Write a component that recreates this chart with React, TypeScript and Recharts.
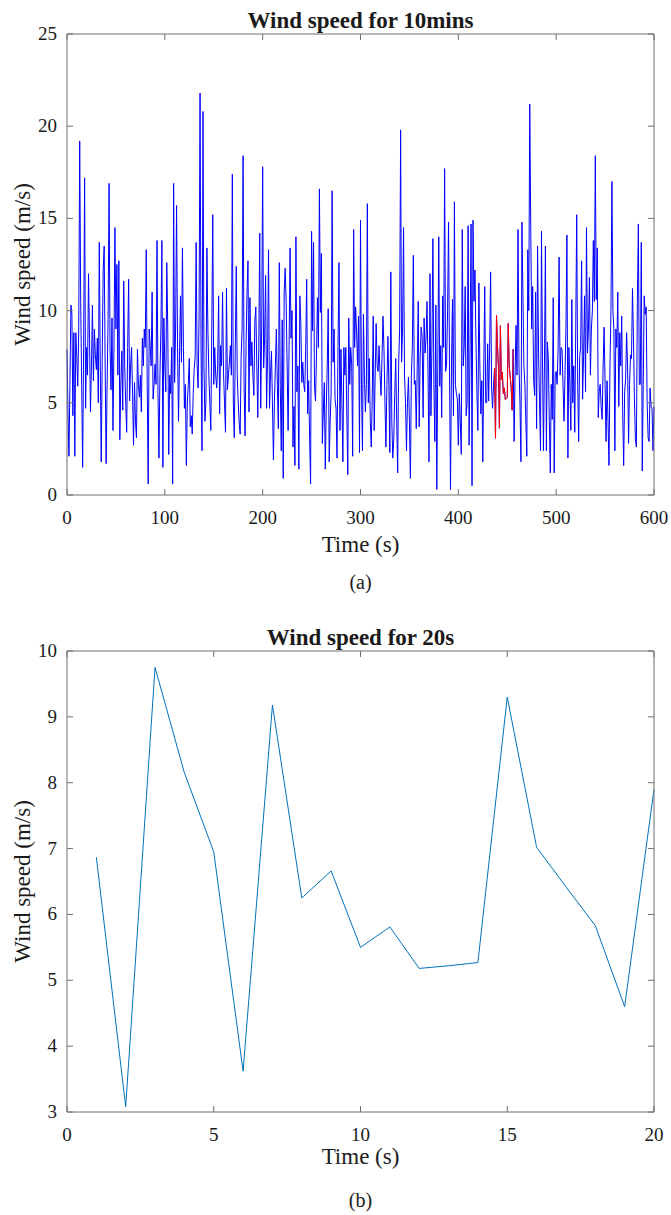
import { LineChart, Line, XAxis, YAxis } from 'recharts';

// wind speed sampled each second, t = 0..600 (m/s)
const speed10min: number[] = [
  7.9, 4.5, 2.1, 6.0, 10.3, 9.8, 4.3, 8.8, 2.1, 8.8,
  7.5, 5.9, 9.0, 19.2, 10.5, 6.0, 1.5, 8.0, 17.2, 4.7,
  8.0, 6.5, 12.0, 8.5, 4.5, 7.0, 10.3, 6.2, 9.0, 7.6,
  6.8, 8.5, 5.0, 13.7, 7.0, 1.8, 7.5, 12.2, 13.5, 7.0,
  1.7, 6.0, 9.5, 16.9, 8.0, 5.7, 9.6, 3.5, 8.0, 14.5,
  9.0, 12.5, 6.5, 12.7, 3.0, 6.0, 7.8, 4.6, 11.6, 7.0,
  5.0, 3.4, 8.0, 11.7, 5.1, 7.0, 8.0, 5.5, 2.7, 6.1,
  4.0, 3.1, 7.9, 6.0, 5.3, 6.5, 4.5, 8.5, 7.0, 9.0,
  8.0, 13.3, 6.0, 0.6, 9.0, 8.1, 7.0, 11.0, 5.2, 6.0,
  7.1, 6.0, 13.8, 5.5, 2.0, 6.5, 9.0, 13.8, 1.5, 9.6,
  7.0, 5.6, 12.6, 9.0, 2.2, 6.5, 5.5, 8.0, 0.6, 16.9,
  6.1, 9.0, 15.7, 8.0, 4.0, 7.5, 10.8, 7.2, 13.4, 8.0,
  4.7, 6.0, 1.6, 5.1, 6.0, 7.4, 3.7, 4.3, 3.3, 5.5,
  6.8, 7.5, 13.7, 7.0, 5.8, 9.6, 21.8, 8.0, 2.4, 20.8,
  7.0, 4.0, 5.1, 13.4, 9.0, 6.5, 5.0, 3.5, 9.0, 15.2,
  6.0, 8.0, 6.5, 5.8, 7.0, 10.8, 4.4, 8.1, 7.0, 11.0,
  6.6, 5.0, 3.4, 11.2, 5.7, 6.5, 7.2, 8.1, 6.5, 17.4,
  5.0, 3.1, 8.0, 12.4, 6.5, 5.0, 3.9, 3.3, 7.5, 9.0,
  18.4, 6.0, 3.2, 8.0, 11.0, 12.7, 4.5, 10.7, 7.0, 8.3,
  6.5, 5.4, 9.4, 10.2, 7.0, 4.2, 8.0, 14.2, 4.7, 9.0,
  17.8, 6.9, 8.5, 11.9, 4.7, 7.5, 13.3, 4.7, 6.5, 7.8,
  5.0, 1.9, 5.1, 7.0, 9.0, 6.0, 3.6, 12.6, 6.0, 2.4,
  9.5, 0.9, 11.0, 12.3, 10.5, 7.0, 3.5, 8.0, 13.4, 8.5,
  10.0, 2.6, 4.8, 1.6, 14.0, 5.6, 7.0, 1.4, 10.8, 9.3,
  6.1, 7.2, 6.0, 5.6, 8.0, 11.7, 4.4, 6.2, 3.0, 0.6,
  14.3, 8.9, 13.7, 5.9, 5.1, 7.5, 10.7, 8.0, 16.6, 9.9,
  13.1, 2.8, 4.5, 6.1, 1.4, 4.7, 7.0, 10.1, 1.8, 4.0,
  5.6, 16.5, 7.2, 9.0, 5.2, 4.7, 2.0, 8.0, 12.6, 3.5,
  7.9, 5.0, 1.8, 8.0, 6.5, 8.0, 4.5, 1.1, 9.6, 6.0,
  8.0, 7.1, 2.1, 14.4, 8.0, 10.2, 8.8, 7.0, 9.7, 2.3,
  14.9, 6.0, 2.4, 9.8, 6.5, 4.5, 6.0, 15.8, 5.0, 7.4,
  4.0, 2.6, 5.3, 9.7, 3.5, 6.5, 9.3, 7.0, 6.7, 8.1,
  6.5, 5.4, 7.5, 9.7, 7.9, 5.0, 2.6, 6.0, 8.6, 6.0,
  2.3, 12.1, 4.0, 2.0, 3.0, 5.5, 7.4, 4.0, 1.2, 7.1,
  9.0, 19.8, 7.2, 9.0, 14.5, 6.5, 5.0, 2.4, 5.0, 6.4,
  4.0, 0.9, 6.5, 8.0, 13.0, 6.0, 6.2, 3.6, 7.0, 10.5,
  3.7, 7.5, 9.1, 8.6, 4.2, 9.6, 7.7, 8.5, 10.5, 6.7,
  1.8, 12.0, 4.3, 8.0, 13.9, 6.0, 2.9, 10.3, 0.3, 7.0,
  14.0, 5.9, 8.1, 4.2, 10.8, 8.0, 17.7, 6.7, 7.1, 10.0,
  14.8, 6.7, 0.3, 7.0, 10.6, 4.3, 15.9, 6.0, 5.5, 5.2,
  2.7, 5.5, 4.0, 2.2, 14.4, 7.0, 8.0, 11.3, 4.3, 5.0,
  14.6, 2.7, 8.0, 14.7, 0.5, 14.9, 10.5, 12.2, 8.4, 5.5,
  3.5, 11.5, 7.0, 4.4, 6.2, 1.8, 7.0, 11.3, 5.0, 5.0,
  8.2, 5.1, 8.0, 12.1, 5.8, 4.7, 6.0, 6.87, 3.08, 9.75,
  8.15, 6.95, 3.62, 9.18, 6.25, 6.66, 5.5, 5.81, 5.18, 5.22,
  5.27, 9.3, 7.02, 6.42, 5.83, 4.6, 7.9, 2.9, 6.5, 9.2,
  6.5, 14.4, 7.0, 5.0, 1.8, 14.8, 11.0, 7.0, 6.0, 4.0,
  2.1, 13.3, 10.0, 21.2, 14.6, 9.0, 11.3, 6.2, 5.4, 11.0,
  3.6, 13.5, 7.7, 5.0, 2.4, 14.3, 7.5, 2.4, 7.0, 13.5,
  2.4, 8.3, 7.4, 4.0, 1.2, 6.0, 4.1, 10.7, 1.2, 6.5,
  6.7, 6.0, 8.0, 12.9, 6.5, 8.0, 7.9, 6.0, 4.0, 6.5,
  9.0, 14.1, 2.0, 8.0, 6.0, 3.5, 10.6, 5.0, 7.0, 3.4,
  9.0, 15.2, 6.0, 2.9, 7.5, 8.0, 12.7, 5.2, 7.5, 10.8,
  5.6, 14.5, 7.7, 9.0, 11.8, 6.5, 9.0, 10.0, 13.8, 10.5,
  18.4, 10.6, 13.4, 4.2, 5.6, 6.0, 4.8, 4.1, 7.0, 9.1,
  6.0, 2.9, 6.2, 4.0, 1.6, 7.0, 10.0, 17.0, 10.0, 9.0,
  2.4, 9.0, 8.0, 11.0, 4.8, 8.8, 7.0, 9.7, 4.4, 1.6,
  5.6, 6.3, 8.8, 7.0, 2.8, 6.0, 7.6, 7.4, 11.2, 8.5,
  5.2, 3.0, 2.6, 10.5, 14.7, 6.0, 6.0, 13.7, 1.3, 6.0,
  10.8, 9.8, 10.2, 5.0, 3.1, 2.9, 5.8, 4.8, 4.7, 2.4,
  4.8,
];

// the 20 s window highlighted in red in (a)
const segSeconds = [1, 2, 3, 4, 5, 6, 7, 8, 9, 10, 11, 12, 13, 14, 15, 16, 17, 18, 19, 20];
const speed20s = [6.87, 3.08, 9.75, 8.15, 6.95, 3.62, 9.18, 6.25, 6.66, 5.5, 5.81, 5.18, 5.22, 5.27, 9.3, 7.02, 6.42, 5.83, 4.6, 7.9];
const segStart = 436;

const xTicksA = [0, 100, 200, 300, 400, 500, 600];
const yTicksA = [0, 5, 10, 15, 20, 25];
const xTicksB = [0, 5, 10, 15, 20];
const yTicksB = [3, 4, 5, 6, 7, 8, 9, 10];

const dataA = speed10min.map((v, t) => {
  const k = t - segStart - 1;
  return { t, v, red: k >= 0 && k < speed20s.length ? speed20s[k] : null };
});
const dataB = segSeconds.map((t, i) => ({ t, v: speed20s[i] }));

const FONT = '"Liberation Serif", "Times New Roman", serif';
const BOX = '#6e6e6e';
const INK = '#1a1a1a';
const TICK_LEN = 6;
const AX = 10; // room given to every axis, taken out of the margins

interface Frame {
  left: number;
  right: number;
  top: number;
  bottom: number;
}

const frameA: Frame = { left: 67, right: 654, top: 34, bottom: 495 };
const frameB: Frame = { left: 67, right: 654, top: 51, bottom: 512 };

function xTick(f: Frame) {
  return (props: any) => {
    const x = props.payload?.coordinate ?? props.x;
    return (
      <g>
        <line x1={x} x2={x} y1={f.bottom} y2={f.bottom - TICK_LEN} stroke={BOX} />
        <line x1={x} x2={x} y1={f.top} y2={f.top + TICK_LEN} stroke={BOX} />
        <text x={x} y={f.bottom + 29} textAnchor="middle" fontFamily={FONT} fontSize={19} fill={INK}>
          {props.payload.value}
        </text>
      </g>
    );
  };
}

function yTick(f: Frame) {
  return (props: any) => {
    const y = props.payload?.coordinate ?? props.y;
    return (
      <g>
        <line x1={f.left} x2={f.left + TICK_LEN} y1={y} y2={y} stroke={BOX} />
        <line x1={f.right} x2={f.right - TICK_LEN} y1={y} y2={y} stroke={BOX} />
        <text x={f.left - 10} y={y + 6} textAnchor="end" fontFamily={FONT} fontSize={19} fill={INK}>
          {props.payload.value}
        </text>
      </g>
    );
  };
}

function Labels() {
  const t = { fontFamily: FONT, fill: INK };
  return (
    <svg width={671} height={1215} style={{ position: 'absolute', left: 0, top: 0, pointerEvents: 'none' }}>
      <text x={360.5} y={28} textAnchor="middle" fontSize={23} fontWeight="bold" {...t}>Wind speed for 10mins</text>
      <text x={360.5} y={552} textAnchor="middle" fontSize={23} {...t}>Time (s)</text>
      <text x={30} y={264.5} textAnchor="middle" fontSize={23} transform="rotate(-90 30 264.5)" {...t}>Wind speed (m/s)</text>
      <text x={360.5} y={589} textAnchor="middle" fontSize={20} {...t}>(a)</text>

      <text x={360.5} y={645} textAnchor="middle" fontSize={23} fontWeight="bold" {...t}>Wind speed for 20s</text>
      <text x={360.5} y={1164} textAnchor="middle" fontSize={23} {...t}>Time (s)</text>
      <text x={30} y={881.5} textAnchor="middle" fontSize={23} transform="rotate(-90 30 881.5)" {...t}>Wind speed (m/s)</text>
      <text x={360.5} y={1207} textAnchor="middle" fontSize={20} {...t}>(b)</text>
    </svg>
  );
}

export default function App() {
  return (
    <div style={{ position: 'absolute', left: 0, top: 0, width: 671, height: 1215, background: '#fff' }}>
      <div style={{ position: 'absolute', left: 0, top: 0 }}>
        <LineChart width={671} height={560} data={dataA}
          margin={{ top: 34 - AX, right: 17 - AX, bottom: 65 - AX, left: 67 - AX }}>
          <XAxis xAxisId="b" dataKey="t" type="number" domain={[0, 600]} ticks={xTicksA} interval={0}
            height={AX} tickLine={false} axisLine={{ stroke: BOX }} tick={xTick(frameA)} />
          <XAxis xAxisId="top" orientation="top" dataKey="t" type="number" domain={[0, 600]}
            height={AX} tickLine={false} axisLine={{ stroke: BOX }} tick={false} />
          <YAxis yAxisId="l" type="number" domain={[0, 25]} ticks={yTicksA} interval={0}
            width={AX} tickLine={false} axisLine={{ stroke: BOX }} tick={yTick(frameA)} />
          <YAxis yAxisId="right" orientation="right" type="number" domain={[0, 25]}
            width={AX} tickLine={false} axisLine={{ stroke: BOX }} tick={false} />
          <Line xAxisId="b" yAxisId="l" dataKey="v" stroke="#0000ff" strokeWidth={1} dot={false} isAnimationActive={false} />
          <Line xAxisId="b" yAxisId="l" dataKey="red" stroke="#ff0000" strokeWidth={1} dot={false} isAnimationActive={false} />
        </LineChart>
      </div>
      <div style={{ position: 'absolute', left: 0, top: 600 }}>
        <LineChart width={671} height={560} data={dataB}
          margin={{ top: 51 - AX, right: 17 - AX, bottom: 48 - AX, left: 67 - AX }}>
          <XAxis xAxisId="b" dataKey="t" type="number" domain={[0, 20]} ticks={xTicksB} interval={0}
            height={AX} tickLine={false} axisLine={{ stroke: BOX }} tick={xTick(frameB)} />
          <XAxis xAxisId="top" orientation="top" dataKey="t" type="number" domain={[0, 20]}
            height={AX} tickLine={false} axisLine={{ stroke: BOX }} tick={false} />
          <YAxis yAxisId="l" type="number" domain={[3, 10]} ticks={yTicksB} interval={0}
            width={AX} tickLine={false} axisLine={{ stroke: BOX }} tick={yTick(frameB)} />
          <YAxis yAxisId="right" orientation="right" type="number" domain={[3, 10]}
            width={AX} tickLine={false} axisLine={{ stroke: BOX }} tick={false} />
          <Line xAxisId="b" yAxisId="l" dataKey="v" stroke="#0072bd" strokeWidth={1} dot={false} isAnimationActive={false} />
        </LineChart>
      </div>
      <Labels />
    </div>
  );
}
